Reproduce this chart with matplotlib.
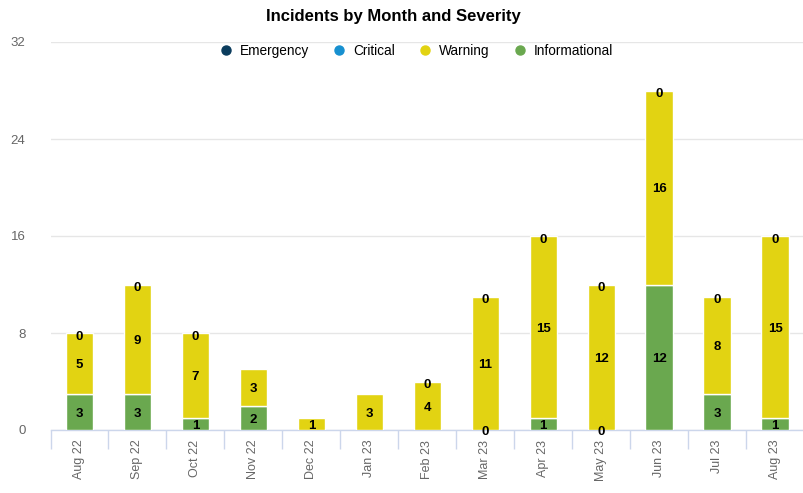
import matplotlib.pyplot as plt
from matplotlib.lines import Line2D

plt.rcParams["font.family"] = ["Liberation Sans", "DejaVu Sans"]

months = ["Aug 22", "Sep 22", "Oct 22", "Nov 22", "Dec 22", "Jan 23", "Feb 23",
          "Mar 23", "Apr 23", "May 23", "Jun 23", "Jul 23", "Aug 23"]
informational = [3, 3, 1, 2, 0, 0, 0, 0, 1, 0, 12, 3, 1]
warning = [5, 9, 7, 3, 1, 3, 4, 11, 15, 12, 16, 8, 15]
critical = [0] * 13
emergency = [0] * 13

# which zero labels the original chart shows
top_zero_shown = ["Aug 22", "Sep 22", "Oct 22", "Feb 23", "Mar 23", "Apr 23",
                  "May 23", "Jun 23", "Jul 23", "Aug 23"]
info_zero_shown = ["Mar 23", "May 23"]

colors = {
    "Emergency": "#0b3c5d",
    "Critical": "#1790d0",
    "Warning": "#e2d312",
    "Informational": "#6aa84f",
}

W, H = 804, 493
fig = plt.figure(figsize=(W / 100, H / 100), dpi=100)
ax_left = 50.5 / W
ax_bottom = (H - 430) / H
ax_top = (H - 42) / H
ax = fig.add_axes([ax_left, ax_bottom, 1 - ax_left, ax_top - ax_bottom])

x = list(range(len(months)))
bw = 0.47
ax.bar(x, informational, width=bw, color=colors["Informational"],
       edgecolor="white", linewidth=1, zorder=3)
ax.bar(x, warning, width=bw, bottom=informational, color=colors["Warning"],
       edgecolor="white", linewidth=1, zorder=3)

lab = dict(ha="center", va="center", fontsize=9.5, fontweight="bold",
           color="black", zorder=5)
off = -0.15
for i, m in enumerate(months):
    inf = informational[i]
    wr = warning[i]
    if inf > 0 or m in info_zero_shown:
        ax.text(i, inf / 2 + off, str(inf), **lab)
    if wr > 0:
        ax.text(i, inf + wr / 2 + off, str(wr), **lab)
    if m in top_zero_shown:
        ax.text(i, inf + wr + critical[i] + emergency[i] - 0.3, str(critical[i]), **lab)

ax.set_ylim(0, 32)
ax.set_yticks([0, 8, 16, 24, 32])
ax.set_xlim(-0.5, 12.5 - (817.5 - W) / 59)
ax.grid(axis="y", color="#e6e6e6", linewidth=1, zorder=0)
for s in ["top", "right", "left"]:
    ax.spines[s].set_visible(False)
ax.spines["bottom"].set_color("#ccd6eb")
ax.spines["bottom"].set_linewidth(1)

ax.set_xticks(x)
ax.set_xticklabels(months, rotation=90, color="#666666", fontsize=9)
ax.set_xticks([i - 0.5 for i in range(len(months) + 1)], minor=True)
ax.tick_params(axis="x", which="major", length=0, pad=7)
ax.tick_params(axis="x", which="minor", length=14, color="#ccd6eb", width=1)
ax.tick_params(axis="y", length=0, pad=18, labelcolor="#666666", labelsize=9.5)
for t in ax.get_yticklabels():
    t.set_horizontalalignment("right")

fig.text(393 / W, 1 - 16 / H, "Incidents by Month and Severity",
         ha="center", va="center", fontsize=12, fontweight="bold")

handles = [Line2D([], [], marker="o", linestyle="none", markersize=6.5,
                  color=colors[k], label=k) for k in colors]
fig.legend(handles=handles, loc="center", ncol=4,
           bbox_to_anchor=(416 / W, 1 - 51 / H), frameon=False,
           fontsize=9.8, handletextpad=0.5, columnspacing=1.75,
           handlelength=1.0)

fig.savefig("out.png", dpi=100)
